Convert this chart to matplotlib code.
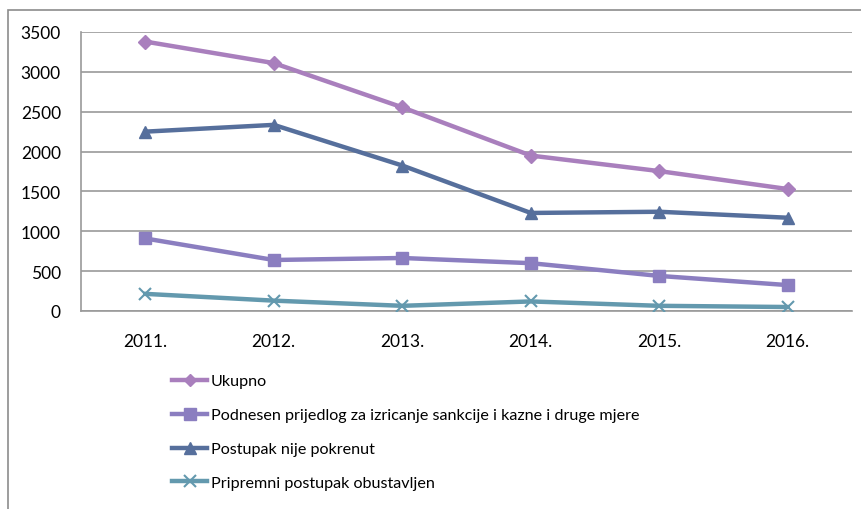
import matplotlib
matplotlib.use("Agg")
import matplotlib.pyplot as plt
from matplotlib.patches import Rectangle

plt.rcParams['font.family'] = ['Lato', 'DejaVu Sans']

years = ['2011.', '2012.', '2013.', '2014.', '2015.', '2016.']
ukupno = [3380, 3110, 2555, 1950, 1755, 1530]
podnesen = [910, 640, 665, 600, 440, 325]
nije_pokrenut = [2250, 2335, 1825, 1230, 1245, 1170]
obustavljen = [215, 130, 65, 120, 65, 50]

labels = ['Ukupno',
          'Podnesen prijedlog za izricanje sankcije i kazne i druge mjere',
          'Postupak nije pokrenut',
          'Pripremni postupak obustavljen']

fig = plt.figure(figsize=(8.62, 5.10), dpi=100)
ax = fig.add_axes([81/862, 1 - 312/510, (852-81)/862, (312-33)/510])

# outer chart frame (runs past right and bottom edge of the image)
fig.patches.append(Rectangle((8/862, -0.1), 1.1, 1 - 11/510 + 0.1, transform=fig.transFigure,
                             fill=False, edgecolor='#8c8c8c', lw=1.2))

x = range(len(years))
lw = 3.2
ax.plot(x, ukupno, color='#a97fbd', lw=lw, marker='D', ms=7, label=labels[0], zorder=3)
ax.plot(x, podnesen, color='#8b7ec0', lw=lw, marker='s', ms=9, label=labels[1], zorder=3)
ax.plot(x, nije_pokrenut, color='#566f9c', lw=lw, marker='^', ms=9, label=labels[2], zorder=3)
ax.plot(x, obustavljen, color='#6399ae', lw=lw, marker='x', ms=9, mew=1.5, label=labels[3], zorder=3)

ax.set_xlim(-0.5, 5.5)
ax.set_ylim(0, 3500)
ax.set_yticks(range(0, 3501, 500))
ax.set_xticks(list(x))
ax.set_xticklabels(years)
ax.grid(axis='y', color='#9a9a9a', lw=1.2)
ax.set_axisbelow(True)
for s in ['top', 'right']:
    ax.spines[s].set_visible(False)
for s in ['left', 'bottom']:
    ax.spines[s].set_color('#9a9a9a')
    ax.spines[s].set_linewidth(1.2)
ax.tick_params(length=0, labelsize=12.5, colors='black')
ax.tick_params(axis='y', pad=14.5)
ax.tick_params(axis='x', pad=16)

fig.legend(loc='upper left', bbox_to_anchor=(172/862, 1 - 375/510), frameon=False,
           fontsize=11.6, handlelength=2.2, handletextpad=0.2, labelspacing=1.22,
           borderpad=0, borderaxespad=0, markerscale=0.9)

fig.savefig('out.png', dpi=100)
